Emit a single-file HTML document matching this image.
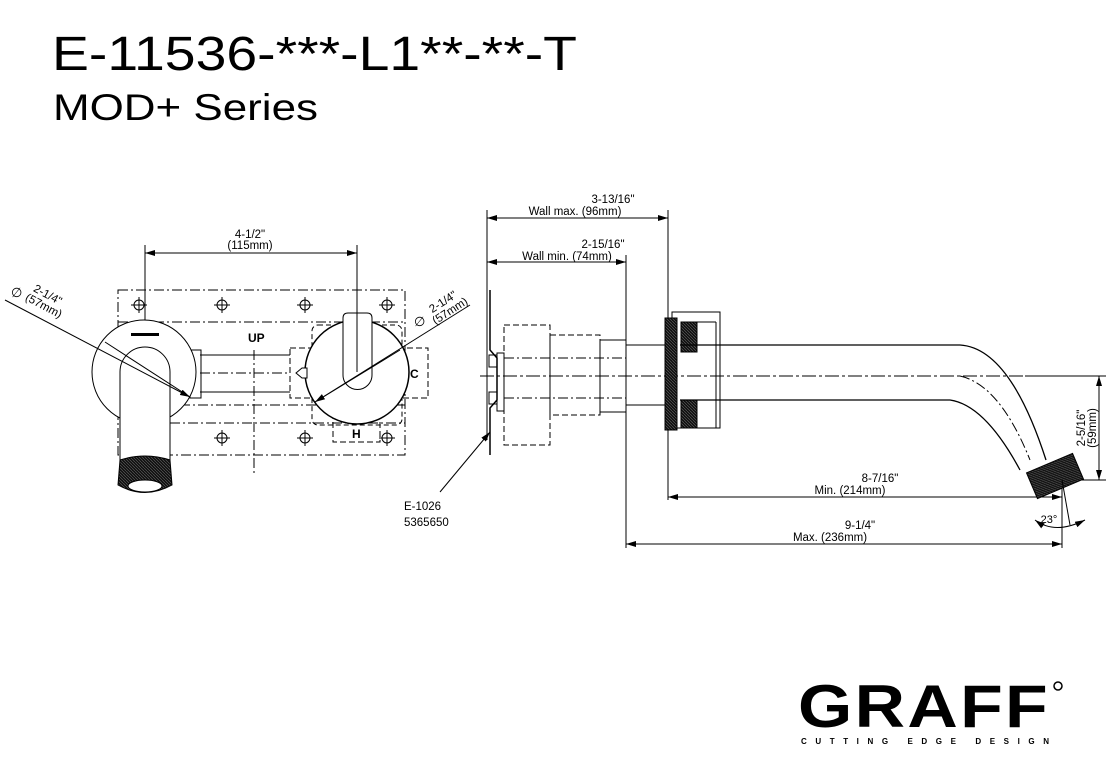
<!DOCTYPE html>
<html><head><meta charset="utf-8"><style>
html,body{margin:0;padding:0;background:#fff;}
svg{display:block;font-family:"Liberation Sans",Arial,sans-serif;}
</style></head><body>
<svg width="1111" height="781" viewBox="0 0 1111 781" xmlns="http://www.w3.org/2000/svg">
<defs>
<marker id="ar" markerWidth="10" markerHeight="6" refX="10" refY="3" orient="auto-start-reverse" markerUnits="userSpaceOnUse"><path d="M0,0 L10,3 L0,6 z" fill="#000"/></marker>
<pattern id="kn" width="3" height="3" patternUnits="userSpaceOnUse"><rect width="3" height="3" fill="#111"/><path d="M0,0 L3,3" stroke="#666" stroke-width="0.6"/></pattern>
</defs>
<text x="52" y="70" font-size="48" textLength="525" lengthAdjust="spacingAndGlyphs">E-11536-***-L1**-**-T</text>
<text x="53" y="120" font-size="37" textLength="265" lengthAdjust="spacingAndGlyphs">MOD+ Series</text>

<g stroke="#000" fill="none" stroke-width="1">
<!-- LEFT VIEW -->
<line x1="145" y1="245" x2="145" y2="372"/>
<line x1="357" y1="245" x2="357" y2="372"/>
<line x1="145" y1="253" x2="357" y2="253" marker-start="url(#ar)" marker-end="url(#ar)"/>
<rect x="118" y="290" width="287" height="165" stroke-dasharray="10,3,2,3"/>
<line x1="118" y1="322" x2="405" y2="322" stroke-dasharray="10,3,2,3"/>
<line x1="180" y1="405" x2="405" y2="405" stroke-dasharray="10,3,2,3"/>
<line x1="170" y1="423" x2="405" y2="423" stroke-dasharray="10,3,2,3"/>
<line x1="254" y1="350" x2="254" y2="475" stroke-dasharray="10,3,2,3"/>
<g stroke-width="1">
<circle cx="139" cy="305" r="5"/><path d="M131 305h16M139 297v16"/>
<circle cx="222" cy="305" r="5"/><path d="M214 305h16M222 297v16"/>
<circle cx="305" cy="305" r="5"/><path d="M297 305h16M305 297v16"/>
<circle cx="387" cy="305" r="5"/><path d="M379 305h16M387 297v16"/>
<circle cx="222" cy="438" r="5"/><path d="M214 438h16M222 430v16"/>
<circle cx="305" cy="438" r="5"/><path d="M297 438h16M305 430v16"/>
<circle cx="387" cy="438" r="5"/><path d="M379 438h16M387 430v16"/>
</g>
<rect x="290" y="348" width="138" height="50" stroke-dasharray="6,3"/>
<rect x="312" y="325" width="90" height="100" rx="6" stroke-dasharray="5,3"/>
<rect x="333" y="415" width="47" height="27" stroke-dasharray="6,3"/>
<line x1="200" y1="355" x2="290" y2="355"/>
<line x1="200" y1="373" x2="290" y2="373" stroke-dasharray="10,3,2,3"/>
<line x1="200" y1="392" x2="290" y2="392"/>
<rect x="190" y="350" width="11" height="48"/>
<circle cx="144" cy="372" r="52" fill="#fff"/>
<circle cx="357" cy="372" r="52" fill="#fff" stroke-width="1.5"/>
<path d="M120 460 V372 A25 25 0 0 1 170 372 V460" fill="#fff"/>
<path d="M343 375 V318 Q343 313 348 313 H367 Q372 313 372 318 V375 A14.5 14.5 0 0 1 343 375 Z" fill="#fff"/>
<line x1="357" y1="313" x2="357" y2="372"/>
<path d="M120 460 Q145 452 170 460 L172 485 Q145 500 118 485 Z" fill="url(#kn)"/>
<ellipse cx="145" cy="486" rx="17" ry="6" fill="#fff"/>
<rect x="131" y="333" width="28" height="3" fill="#000" stroke="none"/>
<path d="M296 373 l6 -5 h5 v10 h-5 z" fill="#fff"/>
<line x1="5" y1="300" x2="190" y2="397" marker-end="url(#ar)"/>
<line x1="105" y1="342" x2="190" y2="397"/>
<line x1="315" y1="402" x2="470" y2="305" marker-start="url(#ar)"/>
<line x1="400" y1="350" x2="315" y2="402"/>

<!-- RIGHT VIEW -->
<line x1="487" y1="210" x2="487" y2="440"/>
<line x1="626" y1="255" x2="626" y2="548"/>
<line x1="668" y1="210" x2="668" y2="500"/>
<line x1="1062" y1="480" x2="1062" y2="548"/>
<line x1="487" y1="218" x2="668" y2="218" marker-start="url(#ar)" marker-end="url(#ar)"/>
<line x1="487" y1="262" x2="626" y2="262" marker-start="url(#ar)" marker-end="url(#ar)"/>
<line x1="668" y1="497" x2="1062" y2="497" marker-start="url(#ar)" marker-end="url(#ar)"/>
<line x1="626" y1="544" x2="1062" y2="544" marker-start="url(#ar)" marker-end="url(#ar)"/>
<line x1="1060" y1="480" x2="1106" y2="480"/>
<line x1="1025" y1="376" x2="1106" y2="376"/>
<line x1="1099" y1="376" x2="1099" y2="480" marker-start="url(#ar)" marker-end="url(#ar)"/>
<line x1="480" y1="376" x2="1105" y2="376" stroke-dasharray="14,3,3,3"/>
<path d="M490 290 V350 L497 358 V400 L490 408 V455" stroke-width="1.5"/>
<rect x="489" y="355" width="8" height="12"/><rect x="489" y="392" width="8" height="12"/>
<rect x="497" y="353" width="7" height="58"/>
<rect x="504" y="325" width="46" height="120" stroke-dasharray="6,3"/>
<rect x="550" y="335" width="50" height="80" stroke-dasharray="6,3"/>
<line x1="504" y1="358" x2="626" y2="358" stroke-dasharray="10,3,2,3"/>
<line x1="504" y1="398" x2="626" y2="398" stroke-dasharray="10,3,2,3"/>
<rect x="600" y="340" width="26" height="72"/>
<rect x="626" y="345" width="40" height="60"/>
<rect x="672" y="312" width="48" height="116"/>
<rect x="665" y="318" width="12" height="112" fill="url(#kn)"/>
<rect x="681" y="322" width="16" height="30" fill="url(#kn)"/>
<rect x="681" y="400" width="16" height="28" fill="url(#kn)"/>
<line x1="697" y1="322" x2="716" y2="322"/><line x1="697" y1="428" x2="716" y2="428"/>
<line x1="716" y1="322" x2="716" y2="428"/>
<path d="M680 345 H960 Q1010 348 1046 460" stroke-width="1.3"/>
<path d="M680 400 H950 Q985 405 1020 470" stroke-width="1.3"/>
<path d="M960 376 Q1000 385 1030 460" stroke-dasharray="10,3,2,3"/>
<g transform="translate(1055 476) rotate(-23)"><rect x="-25" y="-14" width="50" height="28" fill="url(#kn)"/></g>
<line x1="1062" y1="480" x2="1070" y2="525"/>
<path d="M1035 520 Q1055 535 1085 520" marker-start="url(#ar)" marker-end="url(#ar)"/>
<line x1="440" y1="492" x2="490" y2="432" marker-end="url(#ar)"/>
</g>

<g font-size="11.5" text-anchor="middle">
<text x="250" y="238">4-1/2"</text><text x="250" y="249">(115mm)</text>
<text x="613" y="203">3-13/16"</text><text x="575" y="215">Wall max. (96mm)</text>
<text x="603" y="248">2-15/16"</text><text x="567" y="260">Wall min. (74mm)</text>
<text x="880" y="482">8-7/16"</text><text x="850" y="494">Min. (214mm)</text>
<text x="860" y="529">9-1/4"</text><text x="830" y="541">Max. (236mm)</text>
<text x="1049" y="523" font-size="11">23°</text>
<text transform="translate(1085 428) rotate(-90)">2-5/16"</text>
<text transform="translate(1096 428) rotate(-90)">(59mm)</text>
<text transform="translate(46 298) rotate(28)">2-1/4"</text>
<text transform="translate(42 309) rotate(28)">(57mm)</text>
<text transform="translate(445 305) rotate(-33)">2-1/4"</text>
<text transform="translate(452 314) rotate(-33)">(57mm)</text>
</g>
<text x="11" y="297" font-size="13">∅</text>
<text x="414" y="326" font-size="13">∅</text>
<g font-size="12" font-weight="bold">
<text x="248" y="342">UP</text><text x="410" y="378">C</text><text x="352" y="438">H</text>
</g>
<text x="404" y="510" font-size="11.5">E-1026</text>
<text x="404" y="526" font-size="11.5">5365650</text>

<text x="798" y="727" font-size="60" font-weight="bold" textLength="252" lengthAdjust="spacingAndGlyphs" style="letter-spacing:2px">GRAFF</text>
<circle cx="1058" cy="686" r="4" fill="none" stroke="#000" stroke-width="1.5"/>
<text x="801" y="744" font-size="8" font-weight="bold" textLength="248" lengthAdjust="spacing">CUTTING EDGE DESIGN</text>
</svg>
</body></html>
